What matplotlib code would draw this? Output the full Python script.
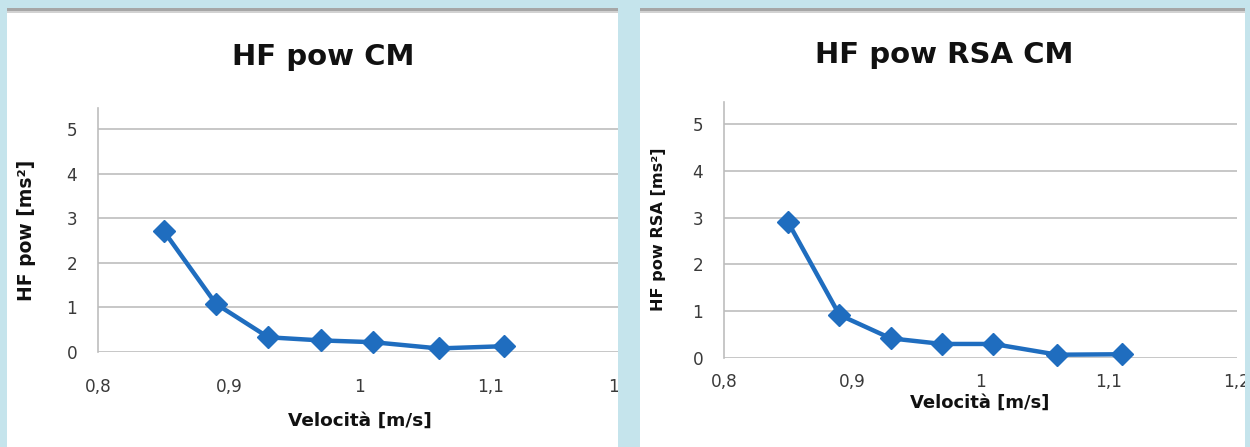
import matplotlib
matplotlib.use("Agg")
import matplotlib.pyplot as plt
from matplotlib.patches import Rectangle
from matplotlib.ticker import FuncFormatter, FixedLocator

# Walking speed [m/s] and HF power values
velocity = [0.85, 0.89, 0.93, 0.97, 1.01, 1.06, 1.11]
hf_pow = [2.72, 1.08, 0.33, 0.26, 0.22, 0.08, 0.13]
hf_pow_rsa = [2.90, 0.92, 0.42, 0.30, 0.30, 0.07, 0.08]

x_ticks = [0.8, 0.9, 1.0, 1.1, 1.2]
y_ticks = [0, 1, 2, 3, 4, 5]

titles = ["HF pow CM", "HF pow RSA CM"]
y_labels = ["HF pow [ms²]", "HF pow RSA [ms²]"]
x_label = "Velocità [m/s]"

W, H = 1250, 447
BG = "#c5e4ec"
LINE = "#1f6dbf"
GRID = "#bdbdbd"

plt.rcParams["font.family"] = ["DejaVu Sans"]

fig = plt.figure(figsize=(W / 100, H / 100), dpi=100)
fig.patch.set_facecolor(BG)


def fx(px):
    return px / W


def fy(py):
    return 1 - py / H


def frect(x0, y0, x1, y1, color, z):
    fig.add_artist(Rectangle((fx(x0), fy(y1)), fx(x1) - fx(x0), fy(y0) - fy(y1),
                             transform=fig.transFigure, facecolor=color,
                             edgecolor="none", zorder=z))


# white panels with a grey rule across the top
for x0, x1 in [(7, 618), (640, 1245)]:
    frect(x0, 8, x1, H, "white", -2)
    frect(x0, 8, x1, 11, "#a6a6a6", -1)
    frect(x0, 11, x1, 12.5, "#d2d2d2", -1)

comma = FuncFormatter(lambda v, _: f"{v:g}".replace(".", ","))

# pixel layout of each panel: axes box (left, right, top, bottom), text centres, sizes
layouts = [
    dict(box=(98, 622, 108, 352), title=(323, 57), xpad=19, ylab=(27, 230), xlab=(360, 421),
         ylsize=13.5, xlsize=13.3),
    dict(box=(724, 1237, 102, 358), title=(944, 55), xpad=11, ylab=(659, 229), xlab=(980, 403),
         ylsize=11.6, xlsize=13.0),
]

for data, title, ylab, lay in zip([hf_pow, hf_pow_rsa], titles, y_labels, layouts):
    l, r, t, b = lay["box"]
    ax = fig.add_axes([fx(l), fy(b), fx(r) - fx(l), fy(t) - fy(b)])
    ax.set_facecolor("none")
    ax.set_xlim(0.8, 1.2)
    ax.set_ylim(0, 5.47)
    ax.xaxis.set_major_locator(FixedLocator(x_ticks))
    ax.yaxis.set_major_locator(FixedLocator(y_ticks))
    ax.xaxis.set_major_formatter(comma)
    ax.yaxis.set_major_formatter(comma)
    for s in ["top", "right", "bottom"]:
        ax.spines[s].set_visible(False)
    ax.spines["left"].set_color(GRID)
    ax.spines["left"].set_linewidth(1.2)
    ax.grid(axis="y", color=GRID, linewidth=1.2)
    ax.set_axisbelow(True)
    ax.tick_params(axis="both", length=0, labelsize=12.2, labelcolor="#3a3a3a")
    ax.tick_params(axis="y", pad=15)
    ax.tick_params(axis="x", pad=lay["xpad"])

    ax.plot(velocity, data, color=LINE, linewidth=3.2, marker="D",
            markersize=11.5, markerfacecolor=LINE, markeredgecolor=LINE, clip_on=False, zorder=3)

    tx, ty = lay["title"]
    fig.text(fx(tx), fy(ty), title, ha="center", va="center", fontsize=21,
             fontweight="bold", color="#111111")
    yx, yy = lay["ylab"]
    fig.text(fx(yx), fy(yy), ylab, ha="center", va="center", rotation=90,
             fontsize=lay["ylsize"], fontweight="bold", color="#111111")
    lx, ly = lay["xlab"]
    fig.text(fx(lx), fy(ly), x_label, ha="center", va="center", fontsize=lay["xlsize"],
             fontweight="bold", color="#111111")

# blue gutters drawn over anything spilling past the panel edges
frect(618, 0, 640, H, BG, 10)
frect(1245, 0, W, H, BG, 10)
frect(0, 0, 7, H, BG, 10)

fig.savefig("out.png", dpi=100, facecolor=BG)
